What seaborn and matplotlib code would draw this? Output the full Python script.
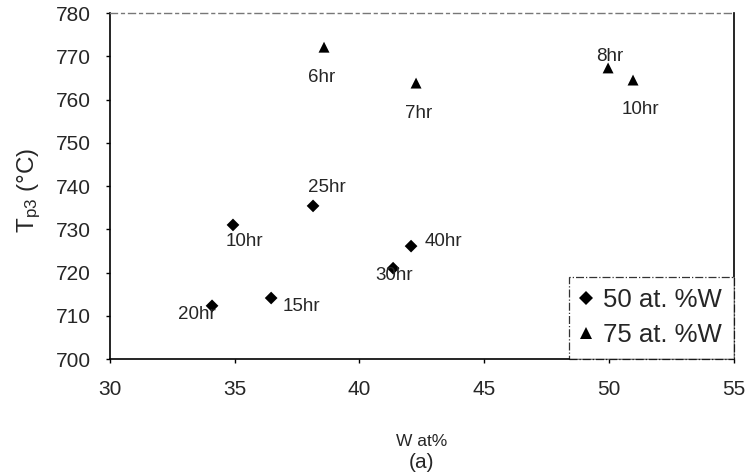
import seaborn as sns
import pandas as pd
import matplotlib.pyplot as plt

# values
w50 = [34.93, 38.14, 34.09, 36.46, 41.35, 42.07]
t50 = [731.0, 735.4, 712.3, 714.1, 721.0, 726.1]
hr50 = ['10hr', '25hr', '20hr', '15hr', '30hr', '40hr']
w75 = [38.58, 42.27, 49.97, 50.97]
t75 = [772.1, 763.8, 767.3, 764.5]
hr75 = ['6hr', '7hr', '8hr', '10hr']
series = ['50 at. %W', '75 at. %W']

df = pd.DataFrame({
    'w': w50 + w75,
    't': t50 + t75,
    'hr': hr50 + hr75,
    'alloy': [series[0]] * len(w50) + [series[1]] * len(w75),
})

# label offsets in points
offsets = {
    (series[0], '10hr'): (8, -12), (series[0], '25hr'): (10, 13),
    (series[0], '20hr'): (-11, -6), (series[0], '15hr'): (22, -6),
    (series[0], '30hr'): (1, -5), (series[0], '40hr'): (23, 3),
    (series[1], '6hr'): (-2, -22), (series[1], '7hr'): (1.5, -22),
    (series[1], '8hr'): (1.5, 8), (series[1], '10hr'): (5, -21),
}

sns.set_style('ticks')
plt.rcParams['font.family'] = ['Liberation Sans', 'DejaVu Sans']
plt.rcParams['mathtext.default'] = 'regular'

fig = plt.figure(figsize=(7.46, 4.75), dpi=100)
ax = fig.add_axes([0.1475, 0.2442, 0.8358, 0.7284])

sns.scatterplot(data=df, x='w', y='t', style='alloy', hue='alloy', size='alloy',
                palette={series[0]: 'black', series[1]: 'black'},
                markers={series[0]: 'D', series[1]: '^'},
                sizes={series[0]: 42, series[1]: 62},
                edgecolor='black', linewidth=0, ax=ax)

for _, r in df.iterrows():
    ax.annotate(r['hr'], (r['w'], r['t']), xytext=offsets[(r['alloy'], r['hr'])],
                textcoords='offset points', ha='center', va='center', fontsize=13.5)

ax.set_xlim(30, 55)
ax.set_ylim(700, 780)
ax.set_xticks(range(30, 56, 5))
ax.set_yticks(range(700, 781, 10))
ax.tick_params(axis='both', labelsize=15, length=3, width=1, color='black')
ax.tick_params(axis='y', pad=11)
ax.tick_params(axis='x', pad=12)

for s in ['left', 'bottom', 'right']:
    ax.spines[s].set_color('black')
    ax.spines[s].set_linewidth(1.2)
ax.spines['top'].set_color('#777777')
ax.spines['top'].set_linestyle((0, (5, 3, 2, 3)))
ax.spines['top'].set_linewidth(1)

ax.set_xlabel('W at%', fontsize=12.5, labelpad=25)
ax.set_ylabel('T$_{p3}$ (°C)', fontsize=17.5)
ax.yaxis.set_label_coords(-0.107, 0.486)
fig.text(0.5645, 0.027, '(a)', fontsize=15, ha='center', va='center')

leg = ax.legend(loc='lower right', bbox_to_anchor=(1, 0), borderaxespad=0,
                fontsize=18.5, frameon=True, fancybox=False, labelspacing=0.43,
                borderpad=0.45, handletextpad=0.45, handlelength=0.45, markerscale=1.05)
leg.get_frame().set_edgecolor('black')
leg.get_frame().set_linestyle('-.')
leg.get_frame().set_linewidth(0.9)

fig.savefig('out.png', dpi=100)
